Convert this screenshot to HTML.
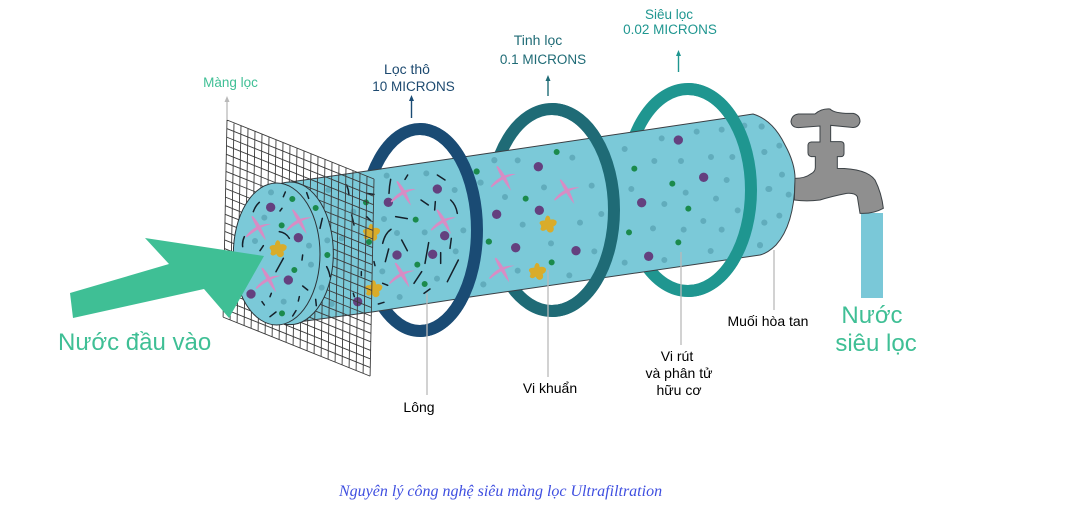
<!DOCTYPE html>
<html lang="vi"><head><meta charset="utf-8"><title>Ultrafiltration</title>
<style>html,body{margin:0;padding:0;background:#fff}svg{display:block}text{font-family:"Liberation Sans",sans-serif}.art{filter:blur(.35px)}</style></head>
<body>
<svg width="1085" height="514" viewBox="0 0 1085 514" xmlns="http://www.w3.org/2000/svg">
<defs>
<g id="x"><path d="M-38 24Q-8-16 38-13Q3-4-35 27Z"/><path d="M-17-37Q11-8 23 37Q-3 8-21-35Z"/></g>
<path id="s" d="M-4-26Q5-27 6-14Q20-17 25-8Q26 2 15 7Q20 20 9 24Q0 27-6 15Q-18 25-24 14Q-18 6-26-2Q-28-12-10-12Q-10-20-4-26Z"/>
</defs>
<g class="art">
<!-- back of rings -->
<g fill="none" stroke-width="12">
<ellipse cx="420" cy="230" rx="57" ry="101" stroke="#1a4b74"/>
<ellipse cx="552" cy="210" rx="62" ry="101" stroke="#1f6b76"/>
<ellipse cx="688" cy="190" rx="63" ry="101" stroke="#1f9690"/>
</g>
<!-- tube -->
<path d="M290 182L360 172L470 156L727 118L753 114Q773 120 785 145Q796 165 795 182Q794 225 776 245Q768 253 760 255L470 297L372 312L283 324Z" fill="#7bc9d8" stroke="#3a3f44" stroke-width="1"/>
<!-- particles -->
<g transform="translate(200 100) scale(.33333)" stroke-linecap="round" fill="none">
<path stroke="#61acbc" stroke-width="18" d="M560 227h0M679 220h0M764 270h0M552 357h0M591 399h0M674 397h0M790 391h0M767 454h0M547 514h0M711 536h0M599 591h0M850 553h0M842 248h0M883 181h0M385 270h0M460 335h0M425 415h0M395 612h0"/>
<path stroke="#64407f" stroke-width="28" d="M565 307h0M712 267h0M734 407h0M698 463h0M591 465h0M473 605h0"/>
<path stroke="#1b8a4c" stroke-width="18" d="M498 307h0M507 426h0M647 359h0M652 494h0M674 552h0M830 214h0M866 425h0"/>
<path stroke="#15202a" stroke-width="4.500" d="M440 255Q446 270 447 285M500 280L522 283M455 345L462 375M500 350L512 362M484 515V527M460 580L463 590M522 485L525 497M567 280Q568 258 572 238M615 238L623 225M712 225L735 240M663 300L685 315M704 330L706 305M752 300Q768 315 772 340M587 350L622 356M548 430Q555 400 573 388M605 420L622 452M556 485L566 447M675 490L686 428M722 490V458M750 445L754 415M742 545L775 480M642 550L665 515M672 580L690 567M535 612L552 607M548 550L563 556"/>
<g fill="#d88cc4"><use href="#x" x="610" y="280"/><use href="#x" x="730" y="365"/><use href="#x" x="605" y="525"/></g>
<g fill="#d9ac2a"><use href="#s" x="515" y="398"/><use href="#s" x="522" y="567"/></g>
</g>
<g transform="translate(470 80) scale(.33333)" stroke-linecap="round" fill="none">
<path stroke="#61acbc" stroke-width="18" d="M73 240h0M143 241h0M307 233h0M31 308h0M222 322h0M105 351h0M365 317h0M158 434h0M394 402h0M330 428h0M243 490h0M373 514h0M143 572h0M298 586h0M40 613h0M464 207h0M575 175h0M680 155h0M755 149h0M823 137h0M875 139h0M883 216h0M553 243h0M633 243h0M723 231h0M787 231h0M770 300h0M895 327h0M484 327h0M647 338h0M738 356h0M583 372h0M803 391h0M700 423h0M549 445h0M641 449h0M755 449h0M883 428h0M870 496h0M722 513h0M583 540h0M464 548h0"/>
<path stroke="#64407f" stroke-width="28" d="M205 260h0M208 391h0M80 403h0M137 503h0M318 512h0M625 180h0M701 292h0M515 368h0M536 529h0"/>
<path stroke="#1b8a4c" stroke-width="18" d="M260 216h0M20 275h0M167 356h0M57 485h0M245 547h0M493 266h0M607 311h0M655 386h0M477 457h0M625 487h0"/>
<g fill="#d88cc4"><use href="#x" x="100" y="295"/><use href="#x" x="290" y="335"/><use href="#x" x="95" y="570"/></g>
<g fill="#d9ac2a"><use href="#s" x="235" y="433"/><use href="#s" x="203" y="575"/></g>
</g>
<g transform="translate(740 90) scale(.33333)" stroke-linecap="round" fill="none">
<path stroke="#61acbc" stroke-width="18" d="M65 110h0M118 167h0M73 186h0M126 254h0M88 297h0M146 314h0M118 377h0M73 398h0M60 465h0"/>
</g>
<!-- mesh -->
<g transform="matrix(7 2.81 -.17 8.57 227 120)" fill="none" stroke="#3a3a3a" stroke-width=".9">
<path vector-effect="non-scaling-stroke" d="M0 0V23M1 0V23M2 0V23M3 0V23M4 0V23M5 0V23M6 0V23M7 0V23M8 0V23M9 0V23M10 0V23M11 0V23M12 0V23M13 0V23M14 0V23M15 0V23M16 0V23M17 0V23M18 0V23M19 0V23M20 0V23M21 0V23M0 0H21M0 1H21M0 2H21M0 3H21M0 4H21M0 5H21M0 6H21M0 7H21M0 8H21M0 9H21M0 10H21M0 11H21M0 12H21M0 13H21M0 14H21M0 15H21M0 16H21M0 17H21M0 18H21M0 19H21M0 20H21M0 21H21M0 22H21M0 23H21"/>
</g>
<!-- disc -->
<g transform="translate(200 100) scale(.33333)" stroke-linecap="round" fill="none">
<ellipse cx="270" cy="460" rx="130" ry="214" fill="#7bc9d8" stroke="#2b3338" stroke-width="3"/>
<ellipse cx="230" cy="462" rx="130" ry="213" fill="#7bc9d8" stroke="#2b3338" stroke-width="3"/>
<path stroke="#61acbc" stroke-width="18" d="M213 277h0M193 353h0M165 423h0M327 437h0M382 421h0M333 494h0M365 563h0M251 605h0"/>
<path stroke="#64407f" stroke-width="28" d="M212 322h0M295 413h0M265 540h0M153 582h0"/>
<path stroke="#1b8a4c" stroke-width="18" d="M277 297h0M347 324h0M245 376h0M382 465h0M283 510h0M246 640h0"/>
<path stroke="#15202a" stroke-width="4.500" d="M160 335Q166 318 178 307M240 333L246 325M250 290L256 276M128 440Q126 425 133 410M180 452L190 437M238 395Q258 398 268 415M228 515L250 475M306 480L308 465M186 605L193 615M210 590L214 580M210 650L228 636M278 648L288 632M295 603L298 590M308 558L323 570M347 598L349 617M380 500Q388 515 390 530M360 385L367 355M320 278L326 295"/>
<g fill="#d88cc4"><use href="#x" x="175" y="385"/><use href="#x" x="297" y="365"/><use href="#x" x="205" y="540"/></g>
<use href="#s" x="235" y="447" fill="#d9ac2a"/>
</g>
<!-- front arcs of rings -->
<g fill="none" stroke-width="12">
<path d="M420 129A57 101 0 0 1 420 331" stroke="#1a4b74"/>
<path d="M552 109A62 101 0 0 1 552 311" stroke="#1f6b76"/>
<path d="M688 89A63 101 0 0 1 688 291" stroke="#1f9690"/>
</g>
<!-- tap -->
<rect x="861" y="213" width="22" height="85" fill="#7ac8d8"/>
<g transform="translate(740 90) scale(.33333)">
<path d="M165 265Q195 265 212 252Q226 245 226 232V200H214Q204 198 204 188V165Q205 157 214 156H240V108L175 113Q155 112 153 95Q155 75 175 72L225 72Q245 55 270 57Q285 72 340 70Q360 75 360 95Q355 115 335 112L272 106V155H303Q312 156 312 165V190Q312 200 302 200H292V235Q380 235 405 270Q425 310 430 355Q400 372 360 370L352 320Q345 308 320 310Q270 320 240 330Q200 335 163 330Z" fill="#8f8f8f" stroke="#3d4347" stroke-width="3"/>
</g>
<!-- arrow -->
<path d="M70 293L169 264L145 238L264 256L229 318L204 289L73 318Z" fill="#3fbf95"/>
<!-- leaders -->
<g stroke="#b9b9b9" stroke-width="1.300" fill="none">
<path d="M427 293V395M548 270V377M681 252V345M774 250V310M227 100V120"/>
</g>
<g stroke-width="1.400" fill="none">
<path d="M411.500 118V98" stroke="#1a4b74"/>
<path d="M548 96V78" stroke="#1f6b76"/>
<path d="M678.500 72V53" stroke="#1f9690"/>
</g>
<path d="M411.500 95L409 101H414Z" fill="#1a4b74"/>
<path d="M548 75L545.500 81H550.500Z" fill="#1f6b76"/>
<path d="M678.500 50L676 56H681Z" fill="#1f9690"/>
<path d="M227 96L224.500 102H229.500Z" fill="#b9b9b9"/>
</g>
<!-- labels -->
<g font-size="13.500" text-anchor="middle">
<text x="230.500" y="87" fill="#3fbf95">Màng lọc</text>
<text x="407" y="74" font-size="14" fill="#1d4a70">Lọc thô</text>
<text x="413.500" y="91" fill="#1d4a70">10 MICRONS</text>
<text x="538" y="45" font-size="14" fill="#1f6b76">Tinh lọc</text>
<text x="543" y="64" fill="#1f6b76">0.1 MICRONS</text>
<text x="669" y="19" fill="#1f9690">Siêu lọc</text>
<text x="670" y="34" fill="#1f9690">0.02 MICRONS</text>
<g fill="#000" font-size="14">
<text x="419" y="412">Lông</text>
<text x="550" y="393">Vi khuẩn</text>
<text x="677" y="361">Vi rút</text>
<text x="679" y="378">và phân tử</text>
<text x="679" y="395">hữu cơ</text>
<text x="768" y="326">Muối hòa tan</text>
</g>
<g fill="#3fbf95" font-size="24">
<text x="872" y="323">Nước</text>
<text x="876" y="351">siêu lọc</text>
</g>
</g>
<text x="58" y="350" font-size="24" fill="#3fbf95">Nước đầu vào</text>
<text x="339" y="496" font-size="16" font-style="italic" fill="#3f4fe0" style="font-family:'Liberation Serif',serif">Nguyên lý công nghệ siêu màng lọc Ultrafiltration</text>
</svg>
</body></html>
